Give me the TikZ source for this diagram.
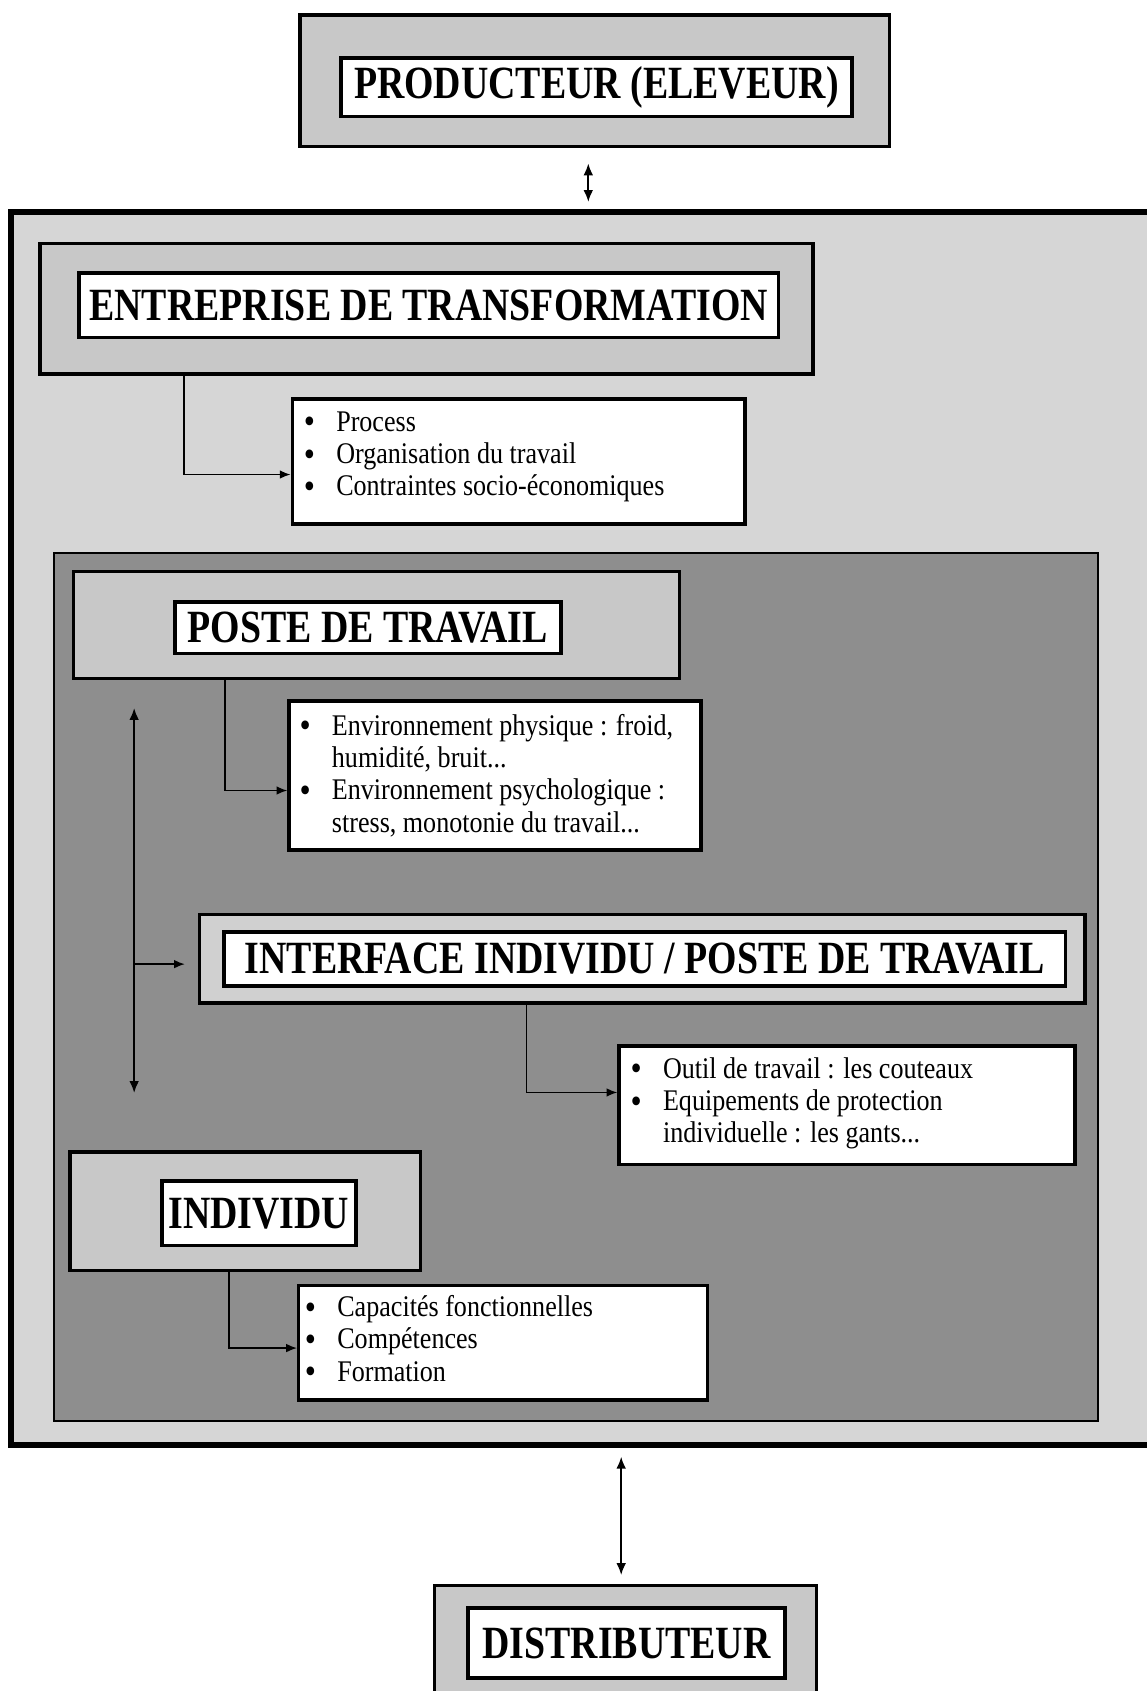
\documentclass[tikz,border=0pt]{standalone}
\usepackage{fontspec}
\setmainfont{Liberation Serif}[FakeStretch=0.87]
\newfontfamily\hdrfont{Liberation Serif}[FakeStretch=0.82]
\usetikzlibrary{fit,arrows.meta}
\definecolor{framegray}{HTML}{D6D6D6}
\definecolor{boxgray}{HTML}{C8C8C8}
\definecolor{lightgray}{HTML}{D0D0D0}
\definecolor{darkgray}{HTML}{8E8E8E}
\newcommand\blist[1]{\begin{tabular}{@{}p{15pt}@{}l@{}}#1\end{tabular}}
\newcommand\bdot{\smash{\raisebox{-1.2pt}{\fontsize{17}{15}\selectfont\textbullet}}}
\begin{document}
\begin{tikzpicture}[x=0.5pt,y=-0.5pt,
  outerbox/.style={draw, line width=1.6pt, fill=#1, inner sep=0pt},
  innerbox/.style={draw, line width=1.7pt, fill=white, inner sep=0pt},
  hdr/.style={inner sep=0pt, font=\hdrfont\fontsize{21.4}{24}\selectfont\bfseries},
  listbox/.style={draw, line width=1.6pt, fill=white, inner sep=0pt},
  listtext/.style={anchor=north west, inner sep=0pt, font=\fontsize{13.9}{15}\selectfont},
  conn/.style={line width=0.7pt, -{Latex[length=5pt,width=4pt]}},
  dbl/.style={line width=0.8pt, {Latex[length=5.5pt,width=4.5pt]}-{Latex[length=5.5pt,width=4.5pt]}}]
\useasboundingbox (0,0) rectangle (1063,1568);
\fill[white] (0,0) rectangle (1063,1568);

% producteur
\node[outerbox=boxgray, fit={(278,14) (825,136)}] (prod) {};
\node[innerbox, fit={(316,54) (790,108)}] (prodin) {};
\node[hdr] (prodtx) at (prodin) {PRODUCTEUR (ELEVEUR)};

% main frame
\node[draw, line width=2.8pt, fill=framegray, inner sep=0pt, fit={(10,197) (1085,1340)}] (frame) {};
\draw[dbl, shorten <=7pt, shorten >=3.5pt] ([xshift=-3pt]prod.south) -- ([xshift=-3pt]prod.south |- frame.north);

% entreprise
\node[outerbox=boxgray, fit={(37,226) (754,347)}] (ent) {};
\node[innerbox, fit={(73,253) (722,313)}] (entin) {};
\node[hdr] (enttx) at (entin) {ENTREPRISE DE TRANSFORMATION};
\node[listbox, fit={(271,370) (691,486)}] (b1) {};
\node[listtext] (t1) at ([xshift=6pt,yshift=-5pt]b1.north west)
  {\blist{\bdot & Process\\ \bdot & Organisation du travail\\ \bdot & Contraintes socio-économiques\\}};
\draw[conn] ([xshift=67.5pt]ent.south west) |- ([yshift=-6pt]b1.west);

% inner frame
\node[draw, line width=1pt, fill=darkgray, inner sep=0pt, fit={(50,513) (1018,1318)}] (inner) {};

% poste
\node[outerbox=boxgray, fit={(68,530) (630,629)}] (poste) {};
\node[innerbox, fit={(162,558) (520,606)}] (postein) {};
\node[hdr] (postetx) at (postein) {POSTE DE TRAVAIL};
\node[listbox, fit={(268,650) (650,788)}] (b2) {};
\node[listtext] (t2) at ([xshift=5.5pt,yshift=-6pt]b2.north west)
  {\blist{\bdot & Environnement physique : froid,\\ & humidité, bruit...\\ \bdot & Environnement psychologique :\\ & stress, monotonie du travail...\\}};
\draw[conn] ([xshift=71pt]poste.south west) |- ([yshift=-7pt]b2.west);

% interface
\node[outerbox=lightgray, fit={(185,848) (1006,930)}] (inter) {};
\node[innerbox, fit={(208,864) (988,914)}] (interin) {};
\node[hdr] (intertx) at (interin) {INTERFACE INDIVIDU / POSTE DE TRAVAIL};
\node[listbox, fit={(574,970) (997,1080)}] (b3) {};
\node[listtext] (t3) at ([xshift=6pt,yshift=-5pt]b3.north west)
  {\blist{\bdot & Outil de travail : les couteaux\\ \bdot & Equipements de protection\\ & individuelle : les gants...\\}};
\draw[conn] ([xshift=152.5pt]inter.south west) |- ([yshift=6pt]b3.west);

% individu
\node[outerbox=boxgray, fit={(65,1068) (390,1178)}] (indiv) {};
\node[innerbox, fit={(150,1095) (330,1155)}] (indivin) {};
\node[hdr] (indivtx) at (indivin) {INDIVIDU};
\node[listbox, fit={(277,1192) (656,1298)}] (b4) {};
\node[listtext] (t4) at ([xshift=3.5pt,yshift=-4.5pt]b4.north west)
  {\blist{\bdot & Capacités fonctionnelles\\ \bdot & Compétences\\ \bdot & Formation\\}};
\draw[conn] ([xshift=74.5pt]indiv.south west) |- ([yshift=-2.5pt]b4.west);

% left vertical double arrow and branch
\coordinate (vtop) at ([xshift=29pt]poste.south west);
\coordinate (vbot) at (vtop |- indiv.north);
\draw[dbl, shorten <=13pt, shorten >=26.5pt] (vtop) -- (vbot);
\coordinate (vbr) at ([yshift=-2.5pt]vtop |- inter.west);
\draw[conn, shorten >=6pt] (vbr) -- ([yshift=-2.5pt]inter.west);

% distributeur
\node[outerbox=boxgray, fit={(403,1470) (757,1600)}] (distr) {};
\node[innerbox, fit={(434,1491) (728,1556)}] (distrin) {};
\node[hdr] (distrtx) at (distrin) {DISTRIBUTEUR};
\draw[dbl, shorten <=4pt, shorten >=4pt] ([xshift=-2pt]distr.north |- frame.south) -- ([xshift=-2pt]distr.north);
\end{tikzpicture}
\end{document}
